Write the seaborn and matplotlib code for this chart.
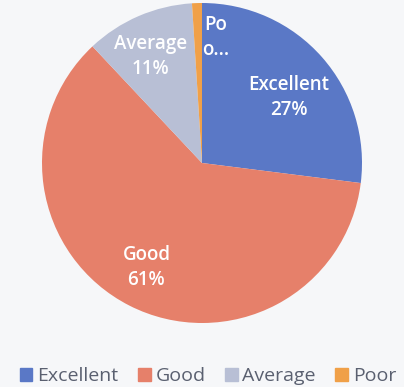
import numpy as np
import matplotlib
matplotlib.use("Agg")
import matplotlib.pyplot as plt
import seaborn as sns

# Rating shares
categories = ["Excellent", "Good", "Average", "Poor"]
shares = [27, 61, 11, 1]
slice_labels = ["Excellent", "Good", "Average", "Po\no..."]

sns.set_theme(style="white")
plt.rcParams["font.family"] = ["Open Sans", "DejaVu Sans"]

colors = sns.color_palette(["#5a78c6", "#e6806a", "#b8bfd5", "#f0a048"])
bg = "#f6f7f9"

fig = plt.figure(figsize=(4.04, 3.87), dpi=100, facecolor=bg)
ax = fig.add_axes([0.0, 0.0, 1.0, 1.0])
ax.set_facecolor(bg)

cx, cy, R = 202, 224, 160  # pixel geometry (origin bottom-left)
wedges, _ = ax.pie(shares, colors=colors, startangle=90, counterclock=False,
                   center=(cx, cy), radius=R,
                   wedgeprops=dict(linewidth=0))
ax.set_xlim(0, 404)
ax.set_ylim(0, 387)
ax.set_aspect("equal")
ax.axis("off")

radial = [0.68, 0.74, 0.74, 0.79]
nudge = [-4.5, -1, 2.6, -7.8]
for w, lab, share, rf, dn in zip(wedges, slice_labels, shares, radial, nudge):
    mid = np.deg2rad((w.theta1 + w.theta2) / 2 + dn)
    x = cx + R * rf * np.cos(mid)
    y = cy + R * rf * np.sin(mid)
    txt = lab if lab.startswith("Po") else f"{lab}\n{share}%"
    ax.text(x, y, txt, ha="center", va="center", color="white",
            fontsize=13.5, fontweight="semibold", linespacing=1.3)

# Legend along the bottom
handles = [plt.Rectangle((0, 0), 1, 1, color=c) for c in colors]
fig.legend(handles, categories, loc="lower center", ncol=4, frameon=False,
           bbox_to_anchor=(0.515, -0.04), fontsize=14, handlelength=0.65,
           handleheight=0.65, handletextpad=0.25, columnspacing=1.0,
           labelcolor="#5a6070")

fig.savefig("out.png", dpi=100, facecolor=bg)
